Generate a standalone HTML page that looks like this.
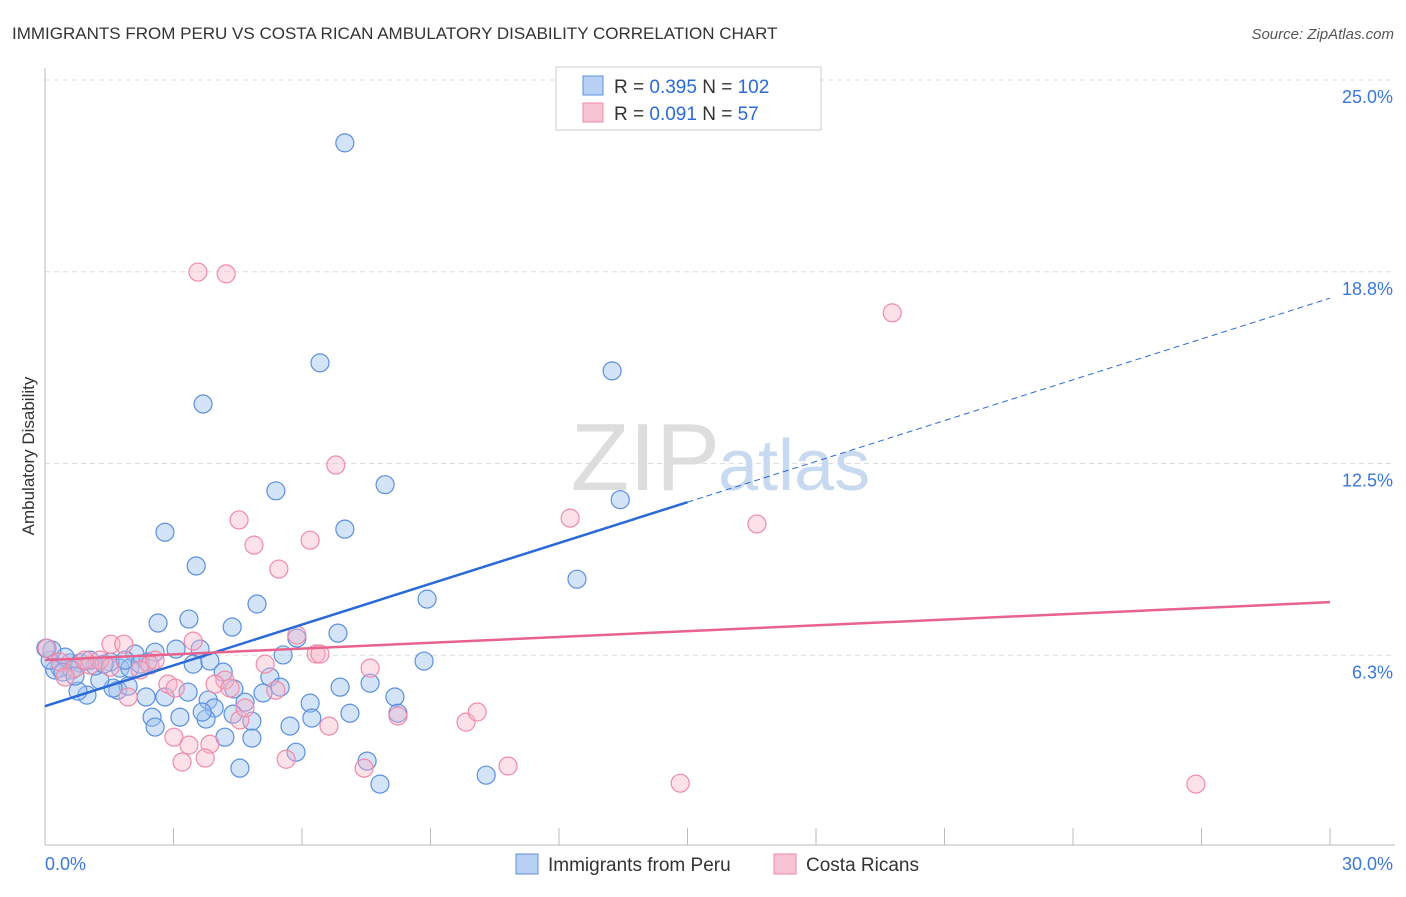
<!DOCTYPE html>
<html><head><meta charset="utf-8"><style>
body{margin:0;background:#fff;font-family:"Liberation Sans",sans-serif}
svg text{font-family:"Liberation Sans",sans-serif}
</style></head><body>
<svg width="1406" height="892" viewBox="0 0 1406 892">
<text x="12" y="39" font-size="17" fill="#333">IMMIGRANTS FROM PERU VS COSTA RICAN AMBULATORY DISABILITY CORRELATION CHART</text>
<text x="1394" y="39" font-size="15" fill="#555" font-style="italic" text-anchor="end">Source: ZipAtlas.com</text>
<g id="grid"></g>
<text x="720" y="490" font-size="96" fill="#ddd" text-anchor="end" font-family="Liberation Serif">ZIP</text>
<text x="718" y="490" font-size="72" fill="#c8daf0">atlas</text>
<g id="pts"></g>
<g id="lines"></g>
<text transform="translate(34,456) rotate(-90)" font-size="17" fill="#333" text-anchor="middle">Ambulatory Disability</text>
<g>
<rect x="556" y="67" width="265" height="63" fill="#fff" stroke="#ccc"/>
<rect x="583" y="76" width="20" height="19" fill="#b8d0f4" stroke="#5b8fe0"/>
<rect x="583" y="103" width="20" height="19" fill="#f8c4d4" stroke="#f08aa8"/>
<text x="614" y="93" font-size="19" fill="#333">R = <tspan fill="#2a6ad8">0.395</tspan>   N = <tspan fill="#2a6ad8">102</tspan></text>
<text x="614" y="120" font-size="19" fill="#333">R = <tspan fill="#2a6ad8">0.091</tspan>   N =   <tspan fill="#2a6ad8">57</tspan></text>
</g>
<g>
<rect x="516" y="854" width="22" height="20" fill="#b8d0f4" stroke="#5b8fe0"/>
<text x="548" y="871" font-size="19" fill="#333">Immigrants from Peru</text>
<rect x="774" y="854" width="22" height="20" fill="#f8c4d4" stroke="#f08aa8"/>
<text x="806" y="871" font-size="19" fill="#333">Costa Ricans</text>
</g>
</svg>
<script>
const xTicks=[0,30];
const yTicks=[25,18.75,12.5,6.25];
const yTickLabels=["25.0%","18.8%","12.5%","6.3%"];
const blueX=[7.00,6.42,3.69,13.24,5.39,7.94,13.43,2.80,7.00,3.53,12.42,8.92,4.95,2.64,3.36,4.37,6.84,5.88,5.56,8.85,3.06,3.62,2.57,2.10,2.40,3.46,3.85,4.16,5.25,5.49,4.41,3.34,2.80,2.36,3.81,3.95,4.67,5.09,6.89,7.59,6.19,8.17,7.12,6.23,8.24,3.15,2.50,3.76,4.39,4.83,2.57,5.72,3.67,4.83,4.20,5.86,7.52,4.55,7.82,10.30,0.98,0.77,1.70,1.94,1.59,1.28,1.75,1.98,1.52,1.17,0.58,0.35,0.23,0.12,0.47,0.82,1.05,1.38,1.87,2.22,0.63,0.16,0.42,0.70,0.02];
const blueY=[22.95,15.78,14.44,15.52,11.61,11.81,11.32,10.26,10.36,9.16,8.73,8.08,7.92,7.30,7.43,7.17,6.97,6.81,6.26,6.06,6.45,6.45,6.35,6.29,6.03,5.96,6.06,5.70,5.54,5.21,5.15,5.05,4.89,4.89,4.79,4.53,4.72,5.02,5.21,5.34,4.69,4.89,4.36,4.20,4.36,4.23,4.23,4.17,4.33,4.10,3.91,3.94,4.40,3.55,3.58,3.09,2.80,2.57,2.05,2.34,4.95,5.08,5.11,5.24,5.18,5.44,5.83,5.83,6.03,5.90,6.00,5.83,5.77,6.09,6.19,6.00,6.09,5.96,6.09,5.96,5.77,6.42,5.70,5.57,6.48];
const pinkX=[3.57,4.23,19.78,6.79,12.26,16.62,4.53,4.88,6.19,5.46,5.88,3.46,1.54,1.84,6.33,5.14,7.59,4.20,3.97,5.39,2.87,2.45,3.04,9.83,10.09,8.24,6.63,4.55,3.01,3.36,3.85,3.74,3.20,5.63,7.45,10.81,14.83,26.87,0.05,0.35,0.70,1.05,1.28,1.94,2.22,2.57,0.47,0.93,1.52,6.42,4.67,4.32];
const pinkY=[18.74,18.68,17.41,12.45,10.72,10.53,10.66,9.84,10.00,9.06,6.91,6.71,6.61,6.61,6.29,5.96,5.83,5.44,5.31,5.11,5.31,5.93,5.18,4.07,4.40,4.27,3.94,4.14,3.58,3.32,3.35,2.90,2.77,2.86,2.57,2.64,2.08,2.05,6.48,6.03,5.83,5.93,6.09,4.89,5.77,6.09,5.54,6.09,5.86,6.29,4.53,5.18];
const blueTrend=[4.59,0.4433]; // intercept, slope
const pinkTrend=[6.09,0.063];
const NS="http://www.w3.org/2000/svg";
const X=v=>45+v/30*1285, Y=v=>847-v/25*767;
function mk(t,a,p){const e=document.createElementNS(NS,t);for(const k in a)e.setAttribute(k,a[k]);p.appendChild(e);return e;}
const grid=document.getElementById('grid');
yTicks.forEach((t,i)=>{
 const l=mk('line',{x1:45,x2:1395,y1:Y(t),y2:Y(t),stroke:'#ddd','stroke-dasharray':'5,4'},grid);
 
 
 const tx=mk('text',{x:1393,y:Y(t)+23,'font-size':18,fill:'#3a78d8','text-anchor':'end'},grid);
 tx.textContent=yTickLabels[i];
 
 
});
const ax=mk('line',{x1:45,x2:45,y1:68,y2:845,stroke:'#bbb'},grid);


const bx=mk('line',{x1:45,x2:1395,y1:845,y2:845,stroke:'#bbb'},grid);


for(let i=0;i<=10;i++){const tk=mk('line',{x1:X(i*3),x2:X(i*3),y1:828,y2:845,stroke:'#bbb'},grid);
 
 }
xTicks.forEach((t,i)=>{const tx=mk('text',{x:i?1393:45,y:870,'font-size':18,fill:'#3a78d8','text-anchor':i?'end':'start'},grid);
 tx.textContent=t.toFixed(1)+'%';
 
 });
const pts=document.getElementById('pts');
blueX.forEach((v,i)=>{const c=mk('circle',{cx:X(v),cy:Y(blueY[i]),r:9,fill:'rgba(160,196,240,0.45)',stroke:'#5b8fe0','stroke-width':1.2},pts);
 
 });
pinkX.forEach((v,i)=>{const c=mk('circle',{cx:X(v),cy:Y(pinkY[i]),r:9,fill:'rgba(248,180,200,0.4)',stroke:'#f08aa8','stroke-width':1.2},pts);
 
 });
const lines=document.getElementById('lines');
const f=(tr,x)=>tr[0]+tr[1]*x;
const b1=mk('line',{x1:X(0),y1:Y(f(blueTrend,0)),x2:X(15),y2:Y(f(blueTrend,15)),stroke:'#2a6ad8','stroke-width':2.5},lines);


const b2=mk('line',{x1:X(15),y1:Y(f(blueTrend,15)),x2:X(30),y2:Y(f(blueTrend,30)),stroke:'#2a6ad8','stroke-width':1,'stroke-dasharray':'6,4'},lines);


const p1=mk('line',{x1:X(0),y1:Y(f(pinkTrend,0)),x2:X(30),y2:Y(f(pinkTrend,30)),stroke:'#e8628c','stroke-width':2.5},lines);


</script>
</body></html>
